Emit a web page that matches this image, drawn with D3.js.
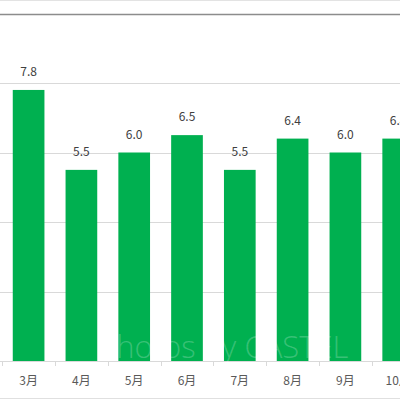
<!DOCTYPE html>
<html>
<head>
<meta charset="utf-8">
<script src="https://cdn.jsdelivr.net/npm/d3@7"></script>
<style>
  body { margin: 0; background: #fff; }
  svg { display: block; }
</style>
</head>
<body>
<svg></svg>
<script>
var months = ["3月", "4月", "5月", "6月", "7月", "8月", "9月", "10月"];
var values = [7.8, 5.5, 6.0, 6.5, 5.5, 6.4, 6.0, 6.4];
var gridTicks = [0, 2, 4, 6, 8];

var width = 400;
var height = 400;

var svg = d3.select("svg")
              .attr("width", width)
              .attr("height", height);

var x = d3.scaleBand()
          .domain(months)
          .range([2.2, 2.2 + 52.8 * months.length])
          .paddingInner(0.4)
          .paddingOuter(0.2);

var y = d3.scaleLinear().domain([0, 10]).range([361, 13.5]);

// top border lines
svg.append("line")
    .attr("x1", 0).attr("x2", width)
    .attr("y1", 0.5).attr("y2", 0.5)
    .attr("stroke", "#e3e3e3");
svg.append("line")
    .attr("x1", 0).attr("x2", width)
    .attr("y1", Math.round(y(10)) + 0.5).attr("y2", Math.round(y(10)) + 0.5)
    .attr("stroke", "#8c8c8c")
    .attr("stroke-width", 1.5);

// gridlines
svg.selectAll("line.grid")
    .data(gridTicks.slice(1))
    .enter()
    .append("line")
      .attr("class", "grid")
      .attr("x1", 0).attr("x2", width)
      .attr("y1", function(d) { return Math.round(y(d)) + 0.5; })
      .attr("y2", function(d) { return Math.round(y(d)) + 0.5; })
      .attr("stroke", "#d9d9d9");

// bars
svg.selectAll("rect.bar")
    .data(months)
    .enter()
    .append("rect")
      .attr("class", "bar")
      .attr("x", function(d) { return x(d); })
      .attr("width", x.bandwidth())
      .attr("y", function(d, i) { return y(values[i]); })
      .attr("height", function(d, i) { return y(0) - y(values[i]); })
      .attr("fill", "#00b050");

// baseline + category ticks
svg.append("line")
    .attr("x1", 0).attr("x2", width)
    .attr("y1", Math.round(y(0)) + 0.5).attr("y2", Math.round(y(0)) + 0.5)
    .attr("stroke", "#d9d9d9");

var step = x.step();
var bounds = months.map(function(d) { return x(d) - x.paddingInner() * step / 2; });
svg.selectAll("line.tick")
    .data(bounds)
    .enter()
    .append("line")
      .attr("class", "tick")
      .attr("x1", function(d) { return Math.round(d) + 0.5; })
      .attr("x2", function(d) { return Math.round(d) + 0.5; })
      .attr("y1", y(0)).attr("y2", y(0) + 5)
      .attr("stroke", "#d9d9d9");

// value labels
svg.selectAll("text.val")
    .data(months)
    .enter()
    .append("text")
      .attr("class", "val")
      .attr("x", function(d) { return x(d) + x.bandwidth() / 2; })
      .attr("y", function(d, i) { return y(values[i]) - 14; })
      .attr("text-anchor", "middle")
      .attr("font-family", "'Noto Sans CJK JP', 'Noto Sans', sans-serif")
      .attr("font-size", 12)
      .attr("fill", "#404040")
      .text(function(d, i) { return values[i].toFixed(1); });

// category labels
svg.selectAll("text.cat")
    .data(months)
    .enter()
    .append("text")
      .attr("class", "cat")
      .attr("x", function(d) { return x(d) + x.bandwidth() / 2; })
      .attr("y", 385)
      .attr("text-anchor", "middle")
      .attr("font-family", "'Noto Sans CJK JP', 'Noto Sans', sans-serif")
      .attr("font-size", 12)
      .attr("fill", "#595959")
      .text(function(d) { return d; });

// bottom border
svg.append("line")
    .attr("x1", 0).attr("x2", width)
    .attr("y1", 398.5).attr("y2", 398.5)
    .attr("stroke", "#e0e0e0");

// watermark
svg.append("text")
    .attr("x", 98)
    .attr("y", 358)
    .attr("font-family", "'Open Sans', 'Noto Sans', sans-serif")
    .attr("font-size", 31)
    .attr("font-weight", 300)
    .attr("fill", "#ffffff")
    .attr("fill-opacity", 0.22)
    .text("Photos by CASTEL");
</script>
</body>
</html>
